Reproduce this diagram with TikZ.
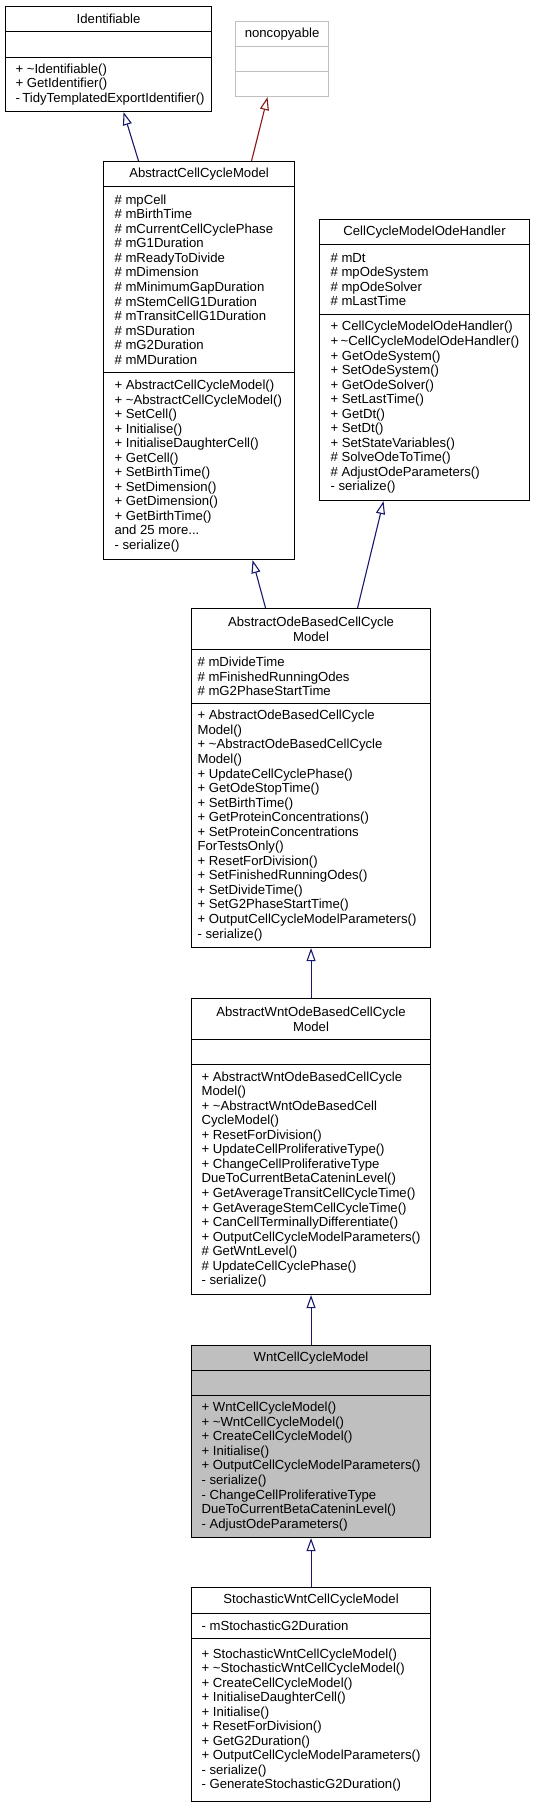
\documentclass[tikz,border=0pt]{standalone}
\usepackage{fontspec}
\setmainfont{Liberation Sans}
\usetikzlibrary{arrows.meta}
\definecolor{edgeblue}{rgb}{0.1,0.1,0.44}
\definecolor{edgered}{rgb}{0.55,0.1,0.1}
\definecolor{lightgrey}{rgb}{0.75,0.75,0.75}

\begin{document}
\begin{tikzpicture}[x=1bp,y=-1bp,line width=1.1bp]
	  \tikzstyle{every node}=[font=\fontsize{13.2}{14.6}\selectfont,inner sep=0pt,anchor=north west,
	    execute at begin node={\hyphenpenalty=10000 \exhyphenpenalty=10000\relax}]
	  \tikzstyle{part}=[draw=black,fill=white,align=flush left]
	  \tikzstyle{body}=[part,text width=#1]
	  \tikzstyle{head}=[part,align=center]
	  \tikzstyle{ghost}=[draw=lightgrey]
	  \tikzstyle{current}=[fill=lightgrey]
	  \tikzstyle{inherit}=[edgeblue,-{Triangle[open,length=13bp,width=9bp]}]
	  \tikzstyle{inheritext}=[inherit,edgered]

	  \useasboundingbox (0,0) rectangle (535,1803);

	  % top row
	  \node[head,minimum width=206bp,minimum height=25bp] (id) at (5,6) {Identifiable};
	  \node[part,minimum width=206bp,minimum height=26bp] (id-a) at (5,31) {};
	  \node[body=186bp,minimum width=206bp,minimum height=54bp] (id-m) at (5,57)
	    {+~\textasciitilde Identifiable()\\+~GetIdentifier()\\-~TidyTemplatedExportIdentifier()};

	  \node[head,ghost,minimum width=93bp,minimum height=25bp] (nc) at (235,21) {noncopyable};
	  \node[part,ghost,minimum width=93bp,minimum height=25bp] (nc-a) at (235,46) {};
	  \node[part,ghost,minimum width=93bp,minimum height=25bp] (nc-m) at (235,71) {};

	  % base classes
	  \node[head,minimum width=191bp,minimum height=25bp] (accm) at (103,161) {AbstractCellCycleModel};
	  \node[body=169bp,minimum width=191bp,minimum height=186bp] (accm-a) at (103,186)
	    {\#~mpCell\\\#~mBirthTime\\\#~mCurrentCellCyclePhase\\\#~mG1Duration\\\#~mReadyToDivide\\\#~mDimension\\\#~mMinimumGapDuration\\\#~mStemCellG1Duration\\\#~mTransitCellG1Duration\\\#~mSDuration\\\#~mG2Duration\\\#~mMDuration};
	  \node[body=169bp,minimum width=191bp,minimum height=187bp] (accm-m) at (103,372)
	    {+~AbstractCellCycleModel()\\+~\textasciitilde AbstractCellCycleModel()\\+~SetCell()\\+~Initialise()\\+~InitialiseDaughterCell()\\+~GetCell()\\+~SetBirthTime()\\+~SetDimension()\\+~GetDimension()\\+~GetBirthTime()\\and~25~more...\\-~serialize()};

	  \node[head,minimum width=210bp,minimum height=25bp] (ode) at (319,219) {CellCycleModelOdeHandler};
	  \node[body=188bp,minimum width=210bp,minimum height=70bp] (ode-a) at (319,244)
	    {\#~mDt\\\#~mpOdeSystem\\\#~mpOdeSolver\\\#~mLastTime};
	  \node[body=188bp,minimum width=210bp,minimum height=186bp] (ode-m) at (319,314)
	    {+~CellCycleModelOdeHandler()\\+~\textasciitilde CellCycleModelOdeHandler()\\+~GetOdeSystem()\\+~SetOdeSystem()\\+~GetOdeSolver()\\+~SetLastTime()\\+~GetDt()\\+~SetDt()\\+~SetStateVariables()\\\#~SolveOdeToTime()\\\#~AdjustOdeParameters()\\-~serialize()};

	  % chain
	  \node[head,minimum width=239bp,minimum height=41bp] (aode) at (191,608) {AbstractOdeBasedCellCycle\\Model};
	  \node[body=227bp,minimum width=239bp,minimum height=54bp] (aode-a) at (191,649)
	    {\#~mDivideTime\\\#~mFinishedRunningOdes\\\#~mG2PhaseStartTime};
	  \node[body=227bp,minimum width=239bp,minimum height=244bp] (aode-m) at (191,703)
	    {+~AbstractOdeBasedCellCycle\\Model()\\+~\textasciitilde AbstractOdeBasedCellCycle\\Model()\\+~UpdateCellCyclePhase()\\+~GetOdeStopTime()\\+~SetBirthTime()\\+~GetProteinConcentrations()\\+~SetProteinConcentrations\\ForTestsOnly()\\+~ResetForDivision()\\+~SetFinishedRunningOdes()\\+~SetDivideTime()\\+~SetG2PhaseStartTime()\\+~OutputCellCycleModelParameters()\\-~serialize()};

	  \node[head,minimum width=239bp,minimum height=41bp] (awnt) at (191,998) {AbstractWntOdeBasedCellCycle\\Model};
	  \node[part,minimum width=239bp,minimum height=25bp] (awnt-a) at (191,1039) {};
	  \node[body=219bp,minimum width=239bp,minimum height=230bp] (awnt-m) at (191,1064)
	    {+~AbstractWntOdeBasedCellCycle\\Model()\\+~\textasciitilde AbstractWntOdeBasedCell\\CycleModel()\\+~ResetForDivision()\\+~UpdateCellProliferativeType()\\+~ChangeCellProliferativeType\\DueToCurrentBetaCateninLevel()\\+~GetAverageTransitCellCycleTime()\\+~GetAverageStemCellCycleTime()\\+~CanCellTerminallyDifferentiate()\\+~OutputCellCycleModelParameters()\\\#~GetWntLevel()\\\#~UpdateCellCyclePhase()\\-~serialize()};

	  \node[head,current,minimum width=239bp,minimum height=25bp] (wnt) at (191,1345) {WntCellCycleModel};
	  \node[part,current,minimum width=239bp,minimum height=25bp] (wnt-a) at (191,1370) {};
	  \node[body=219bp,current,minimum width=239bp,minimum height=142bp] (wnt-m) at (191,1395)
	    {+~WntCellCycleModel()\\+~\textasciitilde WntCellCycleModel()\\+~CreateCellCycleModel()\\+~Initialise()\\+~OutputCellCycleModelParameters()\\-~serialize()\\-~ChangeCellProliferativeType\\DueToCurrentBetaCateninLevel()\\-~AdjustOdeParameters()};

	  \node[head,minimum width=239bp,minimum height=26bp] (stoch) at (191,1587) {StochasticWntCellCycleModel};
	  \node[body=219bp,minimum width=239bp,minimum height=25bp] (stoch-a) at (191,1613) {-~mStochasticG2Duration};
	  \node[body=219bp,minimum width=239bp,minimum height=163bp] (stoch-m) at (191,1638)
	    {+~StochasticWntCellCycleModel()\\+~\textasciitilde StochasticWntCellCycleModel()\\+~CreateCellCycleModel()\\+~InitialiseDaughterCell()\\+~Initialise()\\+~ResetForDivision()\\+~GetG2Duration()\\+~OutputCellCycleModelParameters()\\-~serialize()\\-~GenerateStochasticG2Duration()};

	  % inheritance
	  \draw[inherit] ([xshift=-60.5bp]accm.north) -- ([xshift=15bp]id-m.south);
	  \draw[inheritext] ([xshift=52.5bp]accm.north) -- ([xshift=-14.5bp]nc-m.south);
	  \draw[inherit] ([xshift=-45.5bp]aode.north) -- ([xshift=53.5bp]accm-m.south);
	  \draw[inherit] ([xshift=46.5bp]aode.north) -- ([xshift=-41bp]ode-m.south);
	  \draw[inherit] (awnt.north) -- (aode-m.south);
	  \draw[inherit] (wnt.north) -- (awnt-m.south);
	  \draw[inherit] (stoch.north) -- (wnt-m.south);
\end{tikzpicture}
\end{document}
